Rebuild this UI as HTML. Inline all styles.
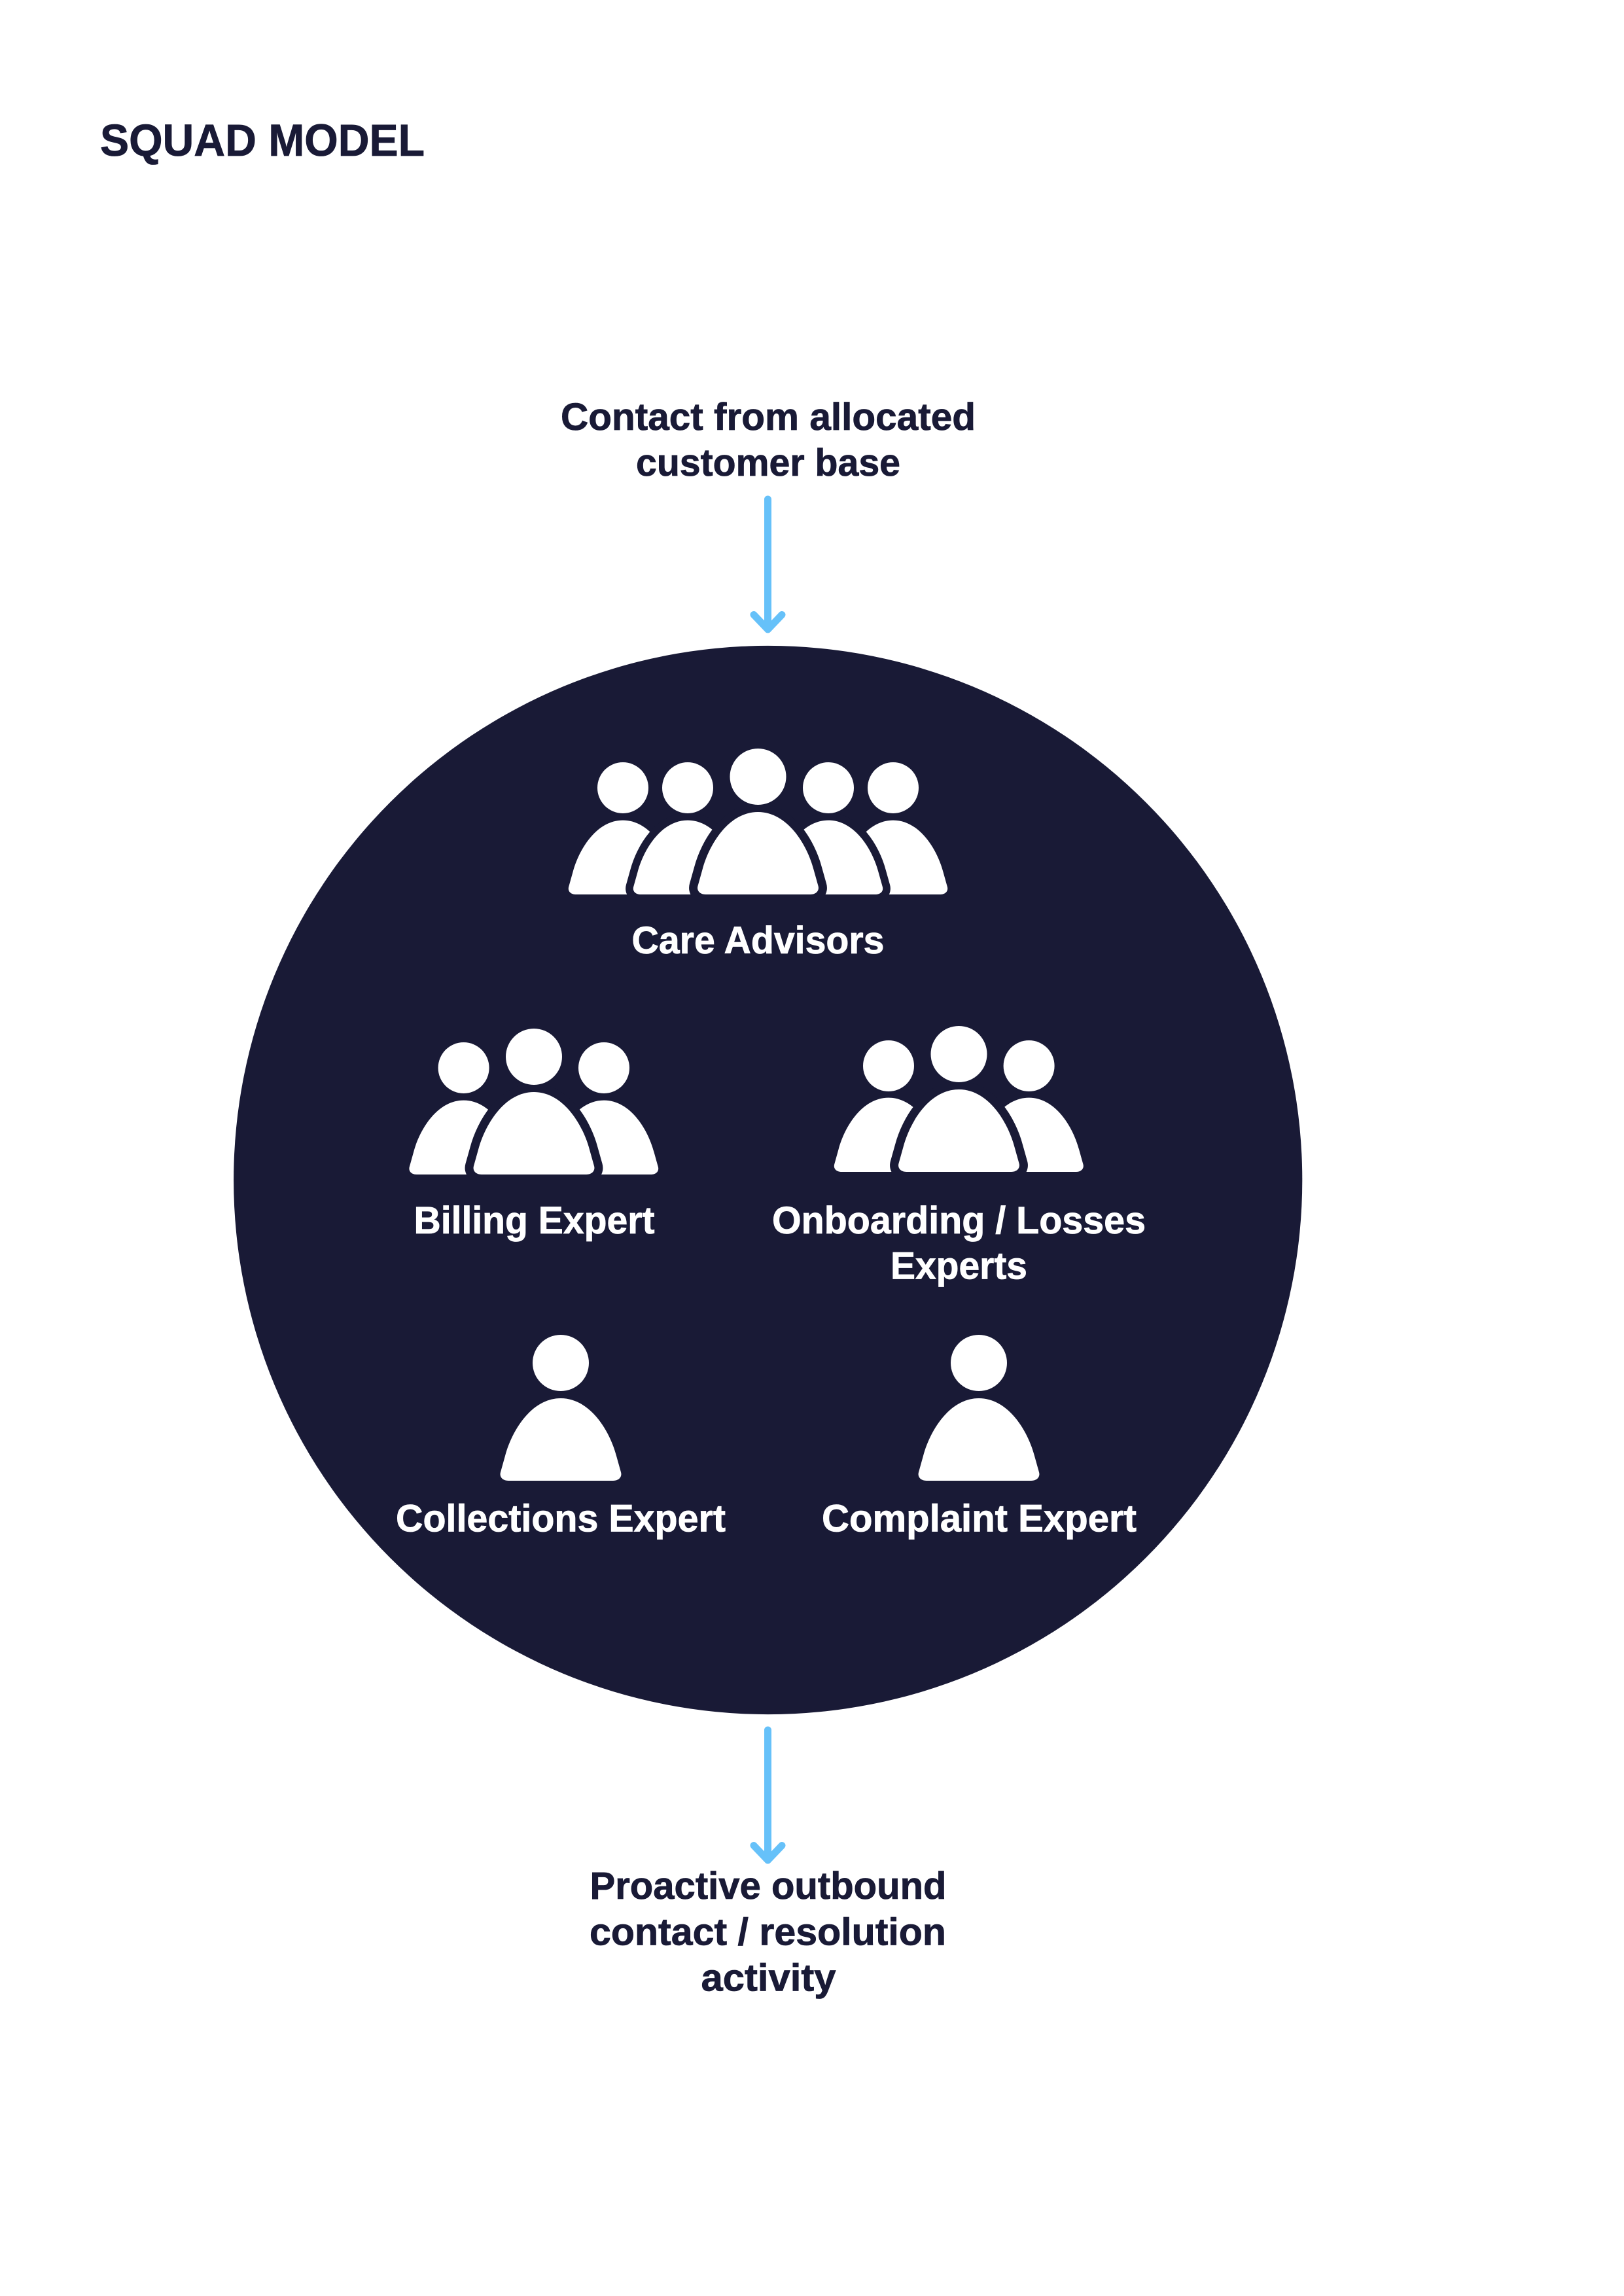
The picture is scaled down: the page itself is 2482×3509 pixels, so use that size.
<!DOCTYPE html>
<html lang="en">
<head>
<meta charset="utf-8">
<title>Squad Model</title>
<style>
html,body{margin:0;padding:0;background:#fff}
svg{display:block}
text{font-family:"Liberation Sans",sans-serif;font-weight:700;stroke-width:.8;paint-order:stroke}
text.d{stroke:#191a36}
text.w{stroke:#fff}
.d{fill:#191a36}
.w{fill:#fff}
</style>
</head>
<body>
<svg xmlns="http://www.w3.org/2000/svg" width="2482" height="3509" viewBox="0 0 2482 3509">
<defs>
<path id="b" d="M-80 126C-89 126-94 120-92 113L-85 88C-75 50-45 0 0 0C45 0 75 50 85 88L92 113C94 120 89 126 80 126Z"/>
<path id="bs" d="M-80 126C-89 126-94 120-92 113L-85 88C-75 50-45 0 0 0C45 0 75 50 85 88L92 113C94 120 89 126 80 126Z" stroke="#191a36" stroke-width="26" stroke-linejoin="round" paint-order="stroke"/>
</defs>
<rect width="2482" height="3509" fill="#fff"/>

<text class="d" x="153" y="238" font-size="69" textLength="496" lengthAdjust="spacingAndGlyphs">SQUAD MODEL</text>

<text class="d" x="857" y="657" font-size="58" textLength="634" lengthAdjust="spacingAndGlyphs">Contact from allocated</text>
<text class="d" x="972" y="727" font-size="58" textLength="404" lengthAdjust="spacingAndGlyphs">customer base</text>

<g fill="none" stroke="#66c1f9" stroke-width="11" stroke-linecap="round" stroke-linejoin="round">
<path d="M1173.5 763V962M1152 939.5L1173.5 962L1195 939.5"/>
<path d="M1173.5 2644V2843M1152 2820.5L1173.5 2843L1195 2820.5"/>
</g>

<circle class="d" cx="1173.7" cy="1803.5" r="816.6"/>

<!-- Care Advisors -->
<g class="w">
<use href="#b" transform="translate(952 1253.6) scale(.9)"/>
<use href="#bs" transform="translate(1051 1253.6) scale(.9)"/>
<use href="#b" transform="translate(1365 1253.6) scale(.9)"/>
<use href="#bs" transform="translate(1266 1253.6) scale(.9)"/>
<use href="#bs" transform="translate(1158.5 1241)"/>
<circle cx="952" cy="1204" r="39"/>
<circle cx="1051" cy="1204" r="39"/>
<circle cx="1158.5" cy="1187" r="43"/>
<circle cx="1266" cy="1204" r="39"/>
<circle cx="1365" cy="1204" r="39"/>
</g>
<text class="w" x="965.5" y="1457" font-size="58" textLength="386" lengthAdjust="spacingAndGlyphs">Care Advisors</text>

<!-- Billing -->
<g class="w">
<use href="#b" transform="translate(708.6 1681.6) scale(.9)"/>
<use href="#b" transform="translate(923 1681.6) scale(.9)"/>
<use href="#bs" transform="translate(816 1669)"/>
<circle cx="708.6" cy="1632" r="39"/>
<circle cx="816" cy="1615" r="43"/>
<circle cx="923" cy="1632" r="39"/>
</g>
<text class="w" x="632.5" y="1885" font-size="58" textLength="368" lengthAdjust="spacingAndGlyphs">Billing Expert</text>

<!-- Onboarding -->
<g class="w">
<use href="#b" transform="translate(1358 1677.6) scale(.9)"/>
<use href="#b" transform="translate(1572.6 1677.6) scale(.9)"/>
<use href="#bs" transform="translate(1465.5 1665)"/>
<circle cx="1358" cy="1629" r="39"/>
<circle cx="1465.5" cy="1611" r="43"/>
<circle cx="1572.6" cy="1629" r="39"/>
</g>
<text class="w" x="1180" y="1885" font-size="58" textLength="571" lengthAdjust="spacingAndGlyphs">Onboarding / Losses</text>
<text class="w" x="1361" y="1954.5" font-size="58" textLength="209" lengthAdjust="spacingAndGlyphs">Experts</text>

<!-- Collections -->
<g class="w">
<use href="#b" transform="translate(857 2137)"/>
<circle cx="857" cy="2083" r="43"/>
</g>
<text class="w" x="605" y="2340.5" font-size="58" textLength="504" lengthAdjust="spacingAndGlyphs">Collections Expert</text>

<!-- Complaint -->
<g class="w">
<use href="#b" transform="translate(1496 2137)"/>
<circle cx="1496" cy="2083" r="43"/>
</g>
<text class="w" x="1256" y="2340.5" font-size="58" textLength="481" lengthAdjust="spacingAndGlyphs">Complaint Expert</text>

<!-- Output labels -->
<text class="d" x="901.5" y="2902" font-size="58" textLength="545" lengthAdjust="spacingAndGlyphs">Proactive outbound</text>
<text class="d" x="901" y="2972.5" font-size="58" textLength="545" lengthAdjust="spacingAndGlyphs">contact / resolution</text>
<text class="d" x="1071.5" y="3042.5" font-size="58" textLength="206" lengthAdjust="spacingAndGlyphs">activity</text>
</svg>
</body>
</html>
